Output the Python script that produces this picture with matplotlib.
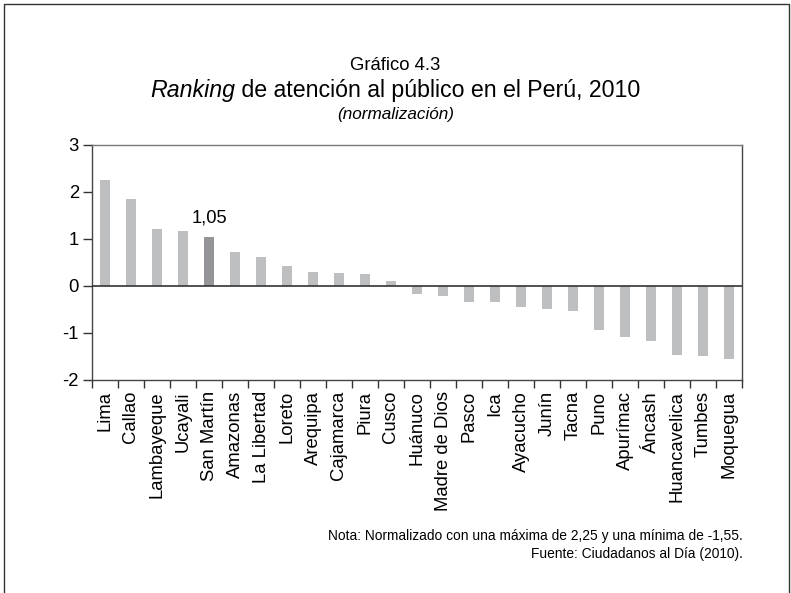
import matplotlib
matplotlib.use("Agg")
import matplotlib.pyplot as plt
from matplotlib.lines import Line2D
import numpy as np

plt.rcParams['font.family'] = ['Liberation Sans', 'DejaVu Sans']

regions = ["Lima", "Callao", "Lambayeque", "Ucayali", "San Martín", "Amazonas",
           "La Libertad", "Loreto", "Arequipa", "Cajamarca", "Piura", "Cusco",
           "Huánuco", "Madre de Dios", "Pasco", "Ica", "Ayacucho", "Junín",
           "Tacna", "Puno", "Apurímac", "Áncash", "Huancavelica", "Tumbes", "Moquegua"]
values = [2.25, 1.85, 1.22, 1.18, 1.05, 0.72, 0.61, 0.42, 0.29, 0.27, 0.25, 0.10,
          -0.18, -0.22, -0.33, -0.35, -0.45, -0.50, -0.54, -0.94, -1.09, -1.16,
          -1.46, -1.48, -1.55]
highlight = "San Martín"
highlight_label = "1,05"
yticks = [-2, -1, 0, 1, 2, 3]

W, H = 791, 593
fig = plt.figure(figsize=(W/100, H/100), dpi=100)
ax = fig.add_axes([92/W, 1-380/H, (742-92)/W, (380-145)/H])

x = np.arange(len(regions))
colors = ['#939598' if r == highlight else '#bebfc1' for r in regions]
ax.bar(x, values, width=0.39, color=colors, zorder=2)
ax.axhline(0, color='#333333', lw=1.2, zorder=3)

hi = regions.index(highlight)
ax.text(hi, values[hi] + 0.22, highlight_label, ha='center', va='bottom', fontsize=13.2)

ax.set_xlim(-0.5, len(regions) - 0.5)
ax.set_ylim(-2, 3)
ax.set_yticks(yticks)
ax.set_yticklabels([str(v) for v in yticks], fontsize=13.3)
ax.set_xticks(x)
ax.set_xticklabels(regions, rotation=90, fontsize=13.3)
ax.tick_params(axis='x', length=0, pad=8)
ax.set_xticks(np.arange(len(regions) + 1) - 0.5, minor=True)
ax.tick_params(axis='x', which='minor', length=6, width=1, color='#333333', direction='out')
ax.tick_params(axis='y', length=6.5, width=1, color='#333333', direction='out', pad=3)
for s in ax.spines.values():
    s.set_color('#444444')
    s.set_linewidth(1)
ax.spines['top'].set_color('#777777')

# titles
fig.text(0.5, 1-66/H, "Gráfico 4.3", ha='center', va='center', fontsize=13.3)
t1 = fig.text(0, 0, "Ranking", fontsize=16.7, style='italic')
t2 = fig.text(0, 0, " de atención al público en el Perú, 2010", fontsize=16.7)
fig.canvas.draw()
r = fig.canvas.get_renderer()
w1 = t1.get_window_extent(r).width
w2 = t2.get_window_extent(r).width
start = (W - (w1 + w2)) / 2
t1.set_position((start / W, 1-90/H)); t1.set_va('center')
t2.set_position(((start + w1) / W, 1-90/H)); t2.set_va('center')
fig.text(0.5, 1-114/H, "(normalización)", ha='center', va='center', fontsize=12.3, style='italic')

fig.text(743/W, 1-536/H, "Nota: Normalizado con una máxima de 2,25 y una mínima de -1,55.",
         ha='right', va='center', fontsize=9.9)
fig.text(743/W, 1-554/H, "Fuente: Ciudadanos al Día (2010).",
         ha='right', va='center', fontsize=9.9)

# outer border (open at bottom)
bx0, bx1, by0 = 3.5/W, 788.5/W, 1-3.5/H
fig.add_artist(Line2D([bx0, bx0, bx1, bx1], [0, by0, by0, 0], color='#333333', lw=1,
                      transform=fig.transFigure))

fig.savefig("out.png", dpi=100)
